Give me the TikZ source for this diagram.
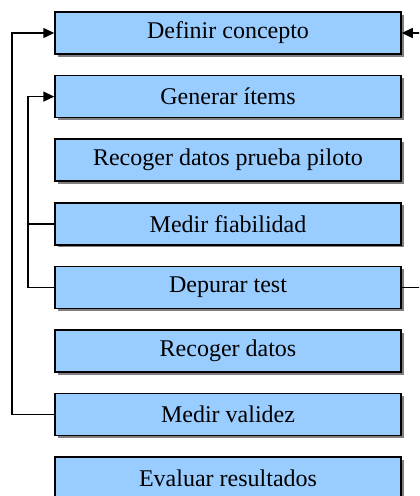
\documentclass[tikz,border=0pt]{standalone}
\usepackage{fontspec}
\setmainfont{Liberation Serif}
\usetikzlibrary{arrows.meta,shadows}
\definecolor{boxblue}{RGB}{153,204,255}
\definecolor{shadowgray}{RGB}{128,128,128}
\tikzset{
  stepbox/.style={draw=black, line width=0.75pt, fill=boxblue,
    minimum width=173pt, minimum height=21pt, inner sep=0pt,
    font=\fontsize{12}{14}\selectfont,
    drop shadow={shadow xshift=1.3pt, shadow yshift=-1.3pt, fill=shadowgray, opacity=1}},
  conn/.style={draw=black, line width=0.75pt},
  arr/.style={conn, -{Triangle[length=5.5pt,width=5pt]}}
}
\begin{document}
\begin{tikzpicture}[x=0.5pt, y=-0.5pt]
\clip (0,0) rectangle (419,496);
\node[stepbox] (b1) at (228,33) {Definir concepto};
\node[stepbox] (b2) at (228,96.6) {Generar ítems};
\node[stepbox] (b3) at (228,160.2) {Recoger datos prueba piloto};
\node[stepbox] (b4) at (228,223.8) {Medir fiabilidad};
\node[stepbox] (b5) at (228,287.4) {Depurar test};
\node[stepbox] (b6) at (228,351) {Recoger datos};
\node[stepbox] (b7) at (228,414.6) {Medir validez};
\node[stepbox] (b8) at (228,478.2) {Evaluar resultados};
\coordinate (xo) at (12,0);
\coordinate (xi) at (28,0);
\coordinate (xr) at (430,0);
% outer left loop
\draw[arr] (b7.west) -- (xo |- b7.west) -- (xo |- b1.west) -- (b1.west);
% inner left loop
\draw[arr] (b5.west) -- (xi |- b5.west) -- (xi |- b2.west) -- (b2.west);
\draw[conn] (b4.west) -- (xi |- b4.west);
% right loop
\draw[arr] (b5.east) -- (xr |- b5.east) -- (xr |- b1.east) -- (b1.east);
\end{tikzpicture}
\end{document}
